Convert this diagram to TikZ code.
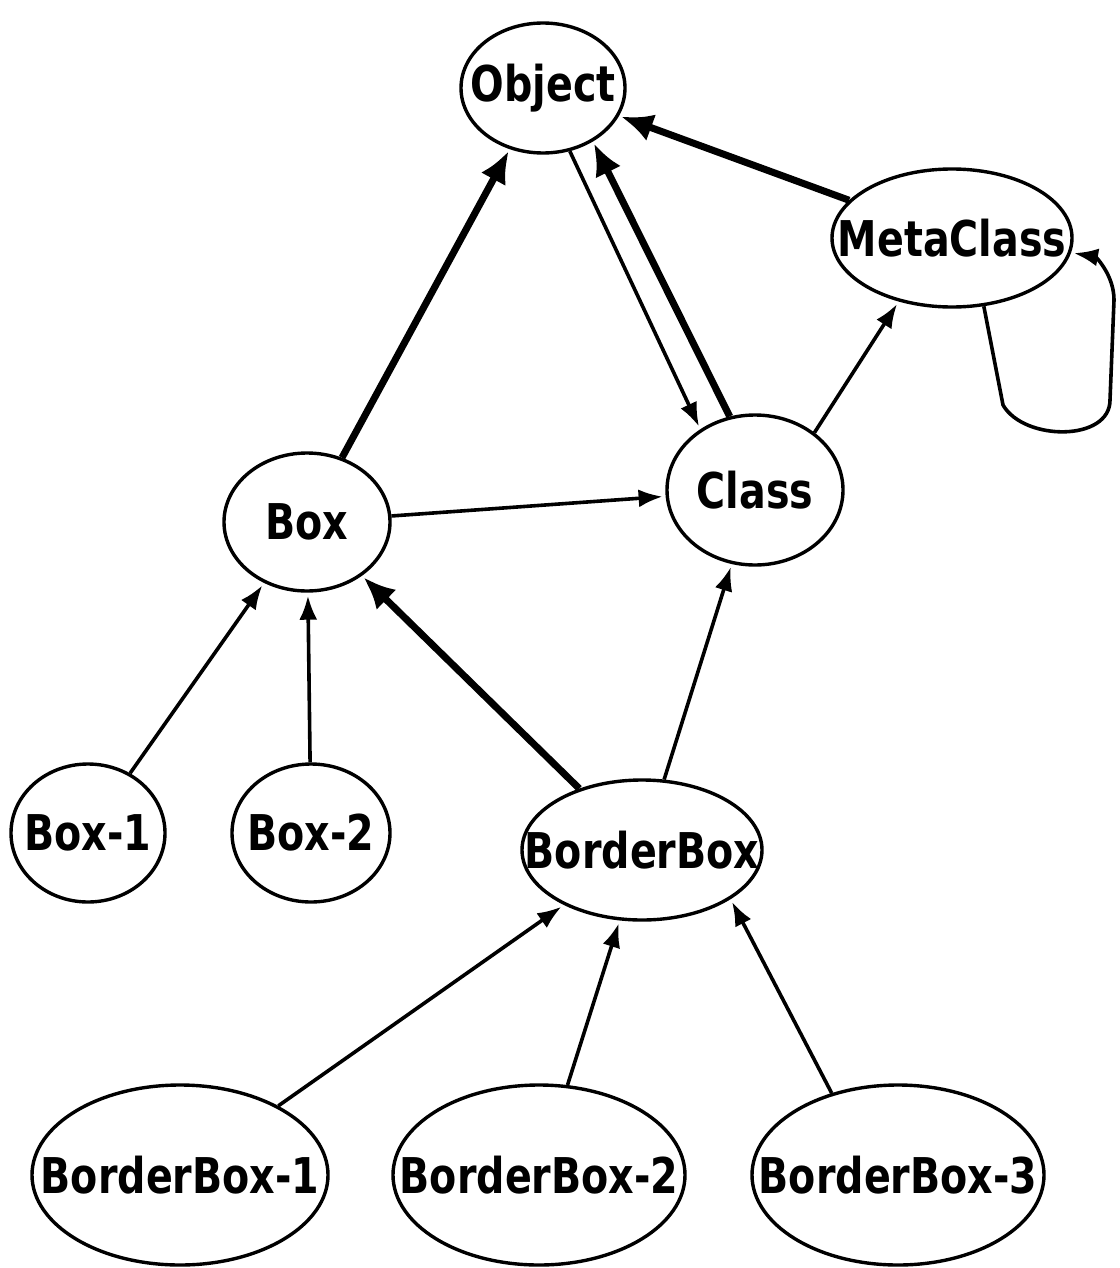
\documentclass[tikz,border=0pt]{standalone}
\usepackage{fontspec}
\setmainfont{DejaVu Sans Condensed}
\usepackage{tikz}
\usetikzlibrary{shapes.geometric}
\usetikzlibrary{arrows.meta}

\newcommand{\cname}[1]{\makebox[0pt]{\scalebox{1}[1.12]{#1}}}

\begin{document}
\begin{tikzpicture}[x=0.5pt,y=-0.5pt,
  cls/.style={draw,ellipse,line width=1.7pt,inner sep=0pt,font=\fontsize{22}{26}\selectfont\bfseries},
  link/.style={line width=1.8pt,shorten >=1.5pt,-{Latex[length=12pt,width=9pt]}},
  heavy/.style={line width=3.5pt,shorten >=1pt,-{Latex[length=16pt,width=14pt]}}]

\useasboundingbox (0,0) rectangle (1119,1268);

\node[cls,minimum width=82pt,minimum height=65pt] (obj) at (543,88) {\cname{Object}};
\node[cls,minimum width=120pt,minimum height=69pt] (meta) at (952,238) {\cname{MetaClass}};
\node[cls,minimum width=88pt,minimum height=75pt] (class) at (755,490) {\cname{Class}};
\node[cls,minimum width=83pt,minimum height=69pt] (box) at (307,522) {\cname{Box}};
\node[cls,minimum width=77pt,minimum height=69pt] (box1) at (88,833) {\cname{Box-1}};
\node[cls,minimum width=79pt,minimum height=69pt] (box2) at (311,833) {\cname{Box-2}};
\node[cls,minimum width=120pt,minimum height=70pt] (bbox) at (642,850) {\cname{BorderBox}};
\node[cls,minimum width=148pt,minimum height=90pt] (bbox1) at (180,1175) {\cname{BorderBox-1}};
\node[cls,minimum width=146pt,minimum height=90pt] (bbox2) at (539,1175) {\cname{BorderBox-2}};
\node[cls,minimum width=146pt,minimum height=90pt] (bbox3) at (898,1175) {\cname{BorderBox-3}};

% superclass links
\draw[heavy] (box) -- (obj);
\draw[heavy] (meta) -- (obj);
\draw[heavy] (class.109) -- (obj.-47);
\draw[heavy] (bbox) -- (box);

% instance links
\draw[link] (obj.-67) -- (class.132);
\draw[link] (class.44) -- (meta.230);
\draw[link] (box) -- (class);
\draw[link] (box1) -- (box);
\draw[link] (box2) -- (box);
\draw[link] (bbox) -- (class);
\draw[link] (bbox1) -- (bbox);
\draw[link] (bbox2) -- (bbox);
\draw[link] (bbox3.129) -- (bbox.-29);
\draw[link] (meta.-65) -- (1003,405) to[out=-60,in=-90] (1110,400) -- (1114,300) to[out=90,in=-10] (meta.-7);
\end{tikzpicture}
\end{document}
